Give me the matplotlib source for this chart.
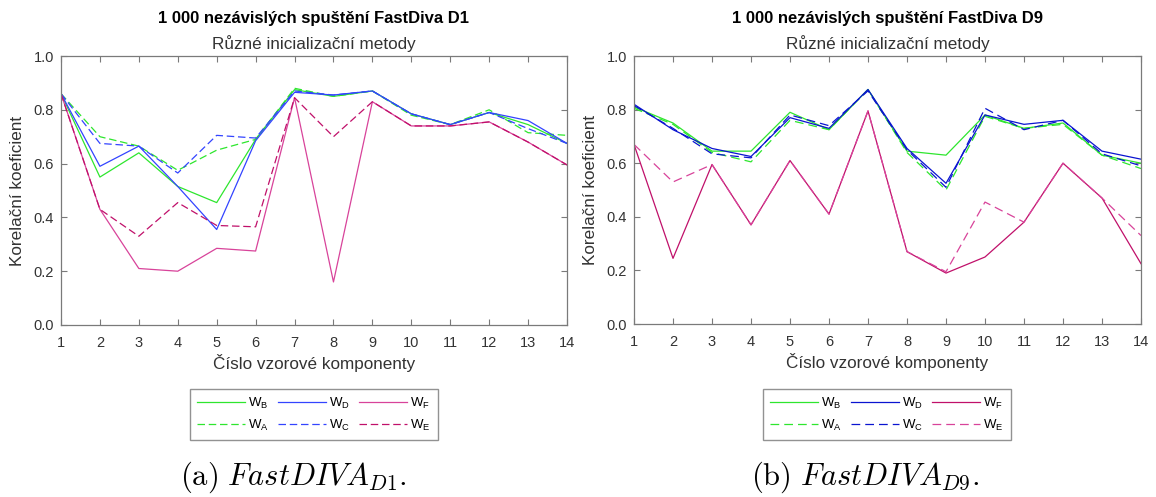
import matplotlib
matplotlib.use("Agg")
import matplotlib.pyplot as plt
import numpy as np

plt.rcParams["font.family"] = ["Liberation Sans", "DejaVu Sans"]
plt.rcParams["mathtext.fontset"] = "custom"
plt.rcParams["mathtext.rm"] = "Liberation Sans"
plt.rcParams["mathtext.it"] = "Liberation Sans:italic"
plt.rcParams["mathtext.bf"] = "Liberation Sans:bold"

# Data
komponenty = np.arange(1, 15)

# FastDiva D1
d1_wb = [0.86, 0.55, 0.64, 0.515, 0.455, 0.69, 0.875, 0.85, 0.87, 0.785, 0.745, 0.79, 0.745, 0.675]
d1_wd = [0.86, 0.59, 0.665, 0.515, 0.355, 0.685, 0.865, 0.855, 0.87, 0.785, 0.745, 0.79, 0.76, 0.675]
d1_wf = [0.86, 0.43, 0.21, 0.20, 0.285, 0.275, 0.845, 0.16, 0.83, 0.74, 0.74, 0.755, 0.68, 0.595]
d1_wa = [0.86, 0.70, 0.665, 0.575, 0.65, 0.69, 0.88, 0.85, 0.87, 0.78, 0.745, 0.80, 0.715, 0.705]
d1_wc = [0.86, 0.675, 0.665, 0.565, 0.705, 0.695, 0.87, 0.855, 0.87, 0.785, 0.745, 0.79, 0.73, 0.675]
d1_we = [0.86, 0.43, 0.33, 0.455, 0.37, 0.365, 0.845, 0.70, 0.83, 0.74, 0.74, 0.755, 0.68, 0.595]

# FastDiva D9
d9_wb = [0.81, 0.75, 0.645, 0.645, 0.79, 0.725, 0.875, 0.645, 0.63, 0.78, 0.73, 0.75, 0.63, 0.60]
d9_wd = [0.82, 0.725, 0.655, 0.625, 0.77, 0.73, 0.875, 0.655, 0.525, 0.78, 0.745, 0.76, 0.645, 0.615]
d9_wf = [0.67, 0.245, 0.595, 0.37, 0.61, 0.41, 0.795, 0.27, 0.19, 0.25, 0.38, 0.60, 0.47, 0.225]
d9_wa = [0.805, 0.745, 0.64, 0.605, 0.76, 0.725, 0.875, 0.64, 0.50, 0.775, 0.73, 0.745, 0.63, 0.58]
d9_wc = [0.815, 0.73, 0.635, 0.62, 0.78, 0.74, 0.87, 0.65, 0.51, 0.805, 0.725, 0.76, 0.635, 0.59]
d9_we = [0.67, 0.53, 0.595, 0.37, 0.61, 0.41, 0.795, 0.27, 0.195, 0.455, 0.38, 0.60, 0.47, 0.33]

# poradi sloupcu legendy: B/A, D/C, F/E
popisky = ["W$_\\mathrm{B}$", "W$_\\mathrm{A}$", "W$_\\mathrm{D}$",
           "W$_\\mathrm{C}$", "W$_\\mathrm{F}$", "W$_\\mathrm{E}$"]

ZELENA = "#2ee62e"
MODRA_SV = "#3344ff"
MODRA_TM = "#0a14d0"
RUZOVA_SV = "#d8439a"
RUZOVA_TM = "#c0106a"
OSA = "#7a7a7a"
TEXT = "#333333"

W, H = 1156, 497
fig = plt.figure(figsize=(W / 100, H / 100), dpi=100)


def osa_px(x0, y0, x1, y1):
    return fig.add_axes([x0 / W, 1 - y1 / H, (x1 - x0) / W, (y1 - y0) / H])


def uprav_osu(ax, titulek):
    ax.set_xlim(1, 14)
    ax.set_ylim(0, 1)
    ax.set_xticks(komponenty)
    ax.set_yticks(np.arange(0, 1.01, 0.2))
    ax.set_yticklabels([f"{v:.1f}" for v in np.arange(0, 1.01, 0.2)])
    ax.tick_params(direction="in", top=True, right=True, length=4, width=0.8,
                   color=OSA, labelcolor=TEXT, labelsize=10.5)
    ax.tick_params(axis="x", pad=8)
    ax.tick_params(axis="y", pad=5)
    for s in ax.spines.values():
        s.set_color(OSA)
        s.set_linewidth(0.9)
    ax.set_xlabel("Číslo vzorové komponenty", fontsize=12.3, color=TEXT, labelpad=3)
    ax.set_ylabel("Korelační koeficient", fontsize=12.3, color=TEXT, labelpad=6)
    ax.set_title("Různé inicializační metody", fontsize=12.3, color=TEXT, pad=5)
    ax.text(0.5, 1.14, titulek, transform=ax.transAxes, ha="center", va="center",
            fontsize=12, fontweight="bold", color="black")


# (a) D1
ax1 = osa_px(61, 56, 567, 325)
lw = 0.9
h1 = [
    ax1.plot(komponenty, d1_wb, color=ZELENA, lw=lw)[0],
    ax1.plot(komponenty, d1_wa, color=ZELENA, lw=lw, ls=(0, (6, 3)))[0],
    ax1.plot(komponenty, d1_wd, color=MODRA_SV, lw=lw)[0],
    ax1.plot(komponenty, d1_wc, color=MODRA_SV, lw=lw, ls=(0, (6, 3)))[0],
    ax1.plot(komponenty, d1_wf, color=RUZOVA_SV, lw=lw)[0],
    ax1.plot(komponenty, d1_we, color=RUZOVA_TM, lw=lw, ls=(0, (6, 3)))[0],
]
uprav_osu(ax1, "1 000 nezávislých spuštění FastDiva D1")

# (b) D9
ax2 = osa_px(634, 56, 1141, 324)
h2 = [
    ax2.plot(komponenty, d9_wb, color=ZELENA, lw=lw)[0],
    ax2.plot(komponenty, d9_wa, color=ZELENA, lw=lw, ls=(0, (7, 4)))[0],
    ax2.plot(komponenty, d9_wd, color=MODRA_TM, lw=lw)[0],
    ax2.plot(komponenty, d9_wc, color=MODRA_TM, lw=lw, ls=(0, (7, 4)))[0],
    ax2.plot(komponenty, d9_wf, color=RUZOVA_TM, lw=lw)[0],
    ax2.plot(komponenty, d9_we, color=RUZOVA_SV, lw=lw, ls=(0, (7, 4)))[0],
]
uprav_osu(ax2, "1 000 nezávislých spuštění FastDiva D9")

# legendy pod grafy
for handles, cx in ((h1, 314), (h2, 887)):
    leg = fig.legend(handles, popisky, ncol=3, loc="center",
                     bbox_to_anchor=(cx / W, 1 - 414.5 / H), fontsize=9.5,
                     frameon=True, fancybox=False, edgecolor="#777777",
                     handlelength=3.6, handletextpad=0.25, columnspacing=0.7,
                     labelspacing=0.5, borderpad=0.55)
    leg.get_frame().set_linewidth(1.0)

# popisky obrazku
fig.text(293 / W, 1 - 477 / H, r"$\mathrm{(a)}\ FastDIVA_{D1}\mathrm{.}$",
         ha="center", va="center", fontsize=22, math_fontfamily="cm")
fig.text(865 / W, 1 - 477 / H, r"$\mathrm{(b)}\ FastDIVA_{D9}\mathrm{.}$",
         ha="center", va="center", fontsize=22, math_fontfamily="cm")

fig.savefig("out.png", dpi=100, facecolor="white")
